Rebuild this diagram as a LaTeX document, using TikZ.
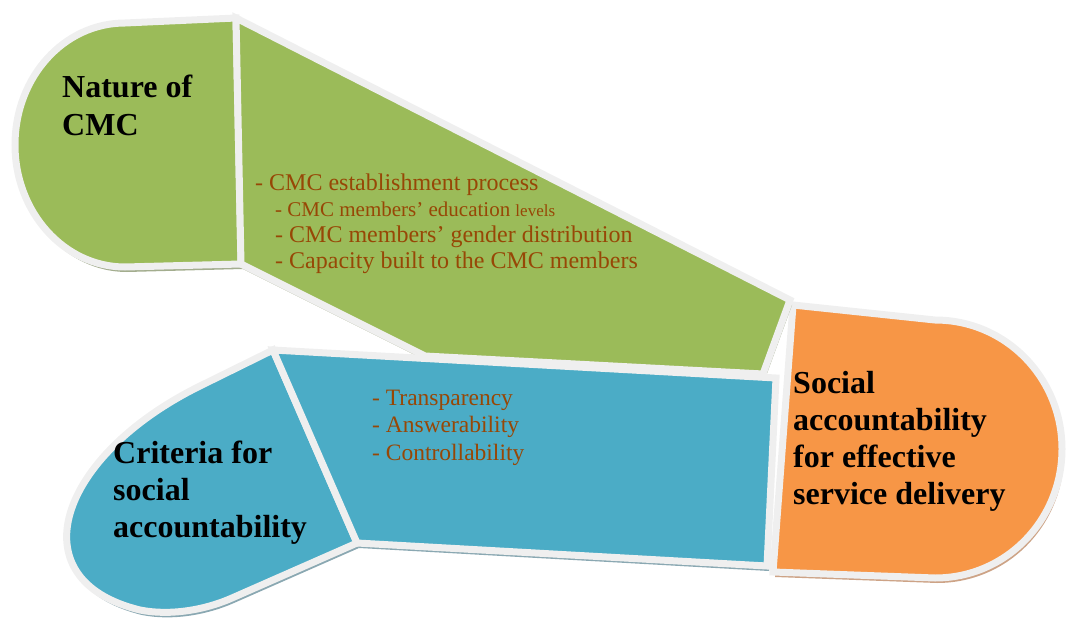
\documentclass[tikz,border=0pt]{standalone}
\usepackage{xcolor}
\usepackage{fontspec}
\setmainfont{Liberation Serif}
\usetikzlibrary{positioning}

\definecolor{leafgreen}{HTML}{9BBB59}
\definecolor{seablue}{HTML}{4BACC6}
\definecolor{capeorange}{HTML}{F79646}
\definecolor{rim}{HTML}{EFEFEF}
\definecolor{greenshade}{HTML}{A3AD8E}
\definecolor{blueshade}{HTML}{8AA8B2}
\definecolor{orangeshade}{HTML}{CDA386}
\definecolor{itembrown}{HTML}{974706}

\begin{document}
\begin{tikzpicture}[
    x=1pt, y=-1pt,
    panel/.style={draw=rim, line width=7pt, fill=#1},
    lifted/.style={preaction={fill=#1, transform canvas={xshift=2pt, yshift=-5pt}}},
    heading/.style={anchor=base west, inner sep=0pt, align=left, font=\fontsize{32}{37}\selectfont\bfseries},
    items/.style={anchor=base west, inner sep=0pt, align=left, text=itembrown}
]
    \useasboundingbox (0,0) rectangle (1066,626);
    % orange end cap
    \draw[panel=capeorange, lifted=orangeshade] (793,305) -- (935,320)
        .. controls (1006,320) and (1062,378) .. (1062,449)
        .. controls (1062,520) and (1006,578) .. (935,578) -- (773,572) -- cycle;
    % green band: rounded end, then the slanted body
    \draw[panel=leafgreen, lifted=greenshade] (236,18) -- (125,23)
        .. controls (64,23) and (15,77) .. (15,145)
        .. controls (15,212) and (64,267) .. (125,267) -- (241,264) -- cycle;
    \draw[panel=leafgreen, lifted=greenshade] (236,18) -- (790,300) -- (763,374) -- (425,356) -- (241,264) -- cycle;
    % blue band
    \draw[panel=seablue, lifted=blueshade] (273,350) -- (200,386)
        .. controls (58,456) and (16,580) .. (140,610)
        .. controls (170,616) and (205,610) .. (232,598) -- (357,543) -- cycle;
    \draw[panel=seablue, lifted=blueshade] (273,350) -- (776,378) -- (767,566) -- (357,543) -- cycle;

    % text blocks sit on the baseline of their last line
    \node[heading] (nature) at (62,135) {Nature of\\CMC};
    \node[heading] (criteria) at (113,537) {Criteria for\\social\\accountability};
    \node[heading] (delivery) at (793,504) {Social\\accountability\\for effective\\service delivery};

    \node[items, font=\fontsize{24}{26}\selectfont] (cmcitems) at (255,268)
        {- CMC establishment process\\
         \hspace*{20pt}{\fontsize{21}{26}\selectfont - CMC members’ education {\fontsize{17}{26}\selectfont levels}}\\
         \hspace*{20pt}- CMC members’ gender distribution\\
         \hspace*{20pt}- Capacity built to the CMC members};
    \node[items, font=\fontsize{23.5}{27.5}\selectfont] (criteriaitems) at (372,460)
        {- Transparency\\- Answerability\\- Controllability};
\end{tikzpicture}
\end{document}
